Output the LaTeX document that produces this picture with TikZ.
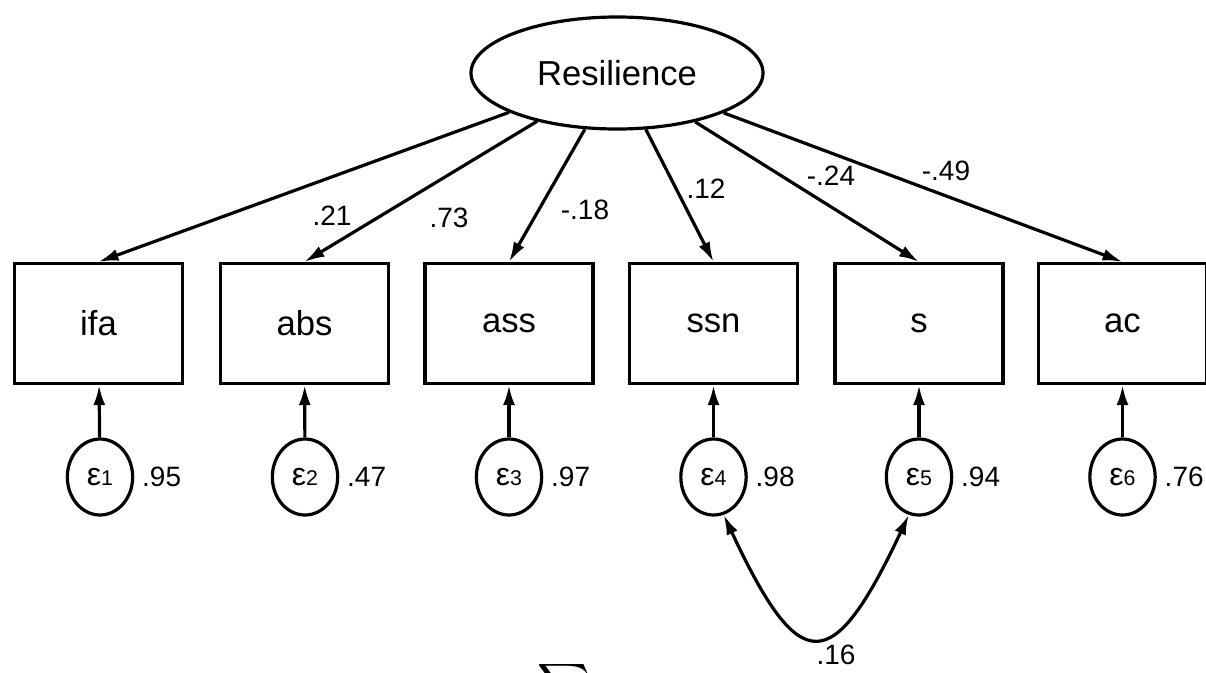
\documentclass[tikz,border=0pt]{standalone}
\usepackage{amsmath}
\usepackage{graphicx}
\usepackage{fontspec}
\setmainfont{Liberation Sans}
\usetikzlibrary{arrows.meta,positioning,shapes.geometric}

\newcommand{\errlab}[1]{{\fontsize{24}{27}\selectfont ε}{\fontsize{16}{18}\selectfont #1}}

\begin{document}
\begin{tikzpicture}[x=0.75pt,y=0.75pt,yscale=-1,xscale=1,
  obsbox/.style={draw,line width=2.4pt,minimum width=126pt,minimum height=90pt,inner sep=0pt,font=\fontsize{26}{30}\selectfont},
  latent/.style={ellipse,draw,line width=2.4pt,minimum width=219pt,minimum height=84pt,inner sep=0pt,font=\fontsize{26}{30}\selectfont},
  errnode/.style={ellipse,draw,line width=2.4pt,minimum width=49pt,minimum height=57pt,inner sep=0pt},
  coef/.style={inner sep=0.75pt,font=\fontsize{21}{24}\selectfont},
  loadarrow/.style={line width=2.4pt,-{Latex[length=15pt,width=9pt]}},
  covarrow/.style={line width=2.4pt,{Latex[length=15pt,width=9pt]}-{Latex[length=15pt,width=9pt]}}]
\useasboundingbox (0,0) rectangle (1206,672);

%Shape: Ellipse [latent]
\node [latent] (res) at (617,73) {Resilience};

%Shape: Rectangle [observed]
\node [obsbox] (ifa) at (98.5,323.5) {ifa};
\node [obsbox] (abs) at (304.5,323.5) {abs};
\node [obsbox] (ass) at (509,323.5) {ass};
\node [obsbox] (ssn) at (713.5,323.5) {ssn};
\node [obsbox] (s) at (919,323.5) {s};
\node [obsbox] (ac) at (1122.5,323.5) {ac};

%Shape: Ellipse [errors]
\node [errnode] (e1) at (100,477) {\errlab{1}};
\node [errnode] (e2) at (305,477) {\errlab{2}};
\node [errnode] (e3) at (509,477) {\errlab{3}};
\node [errnode] (e4) at (713.5,477) {\errlab{4}};
\node [errnode] (e5) at (919,477) {\errlab{5}};
\node [errnode] (e6) at (1122.5,477) {\errlab{6}};

%Straight Lines [loadings]
\draw [loadarrow] (res) -- (ifa.north);
\draw [loadarrow] (res) -- (abs.north);
\draw [loadarrow] (res) -- (ass.north);
\draw [loadarrow] (res) -- (ssn.north);
\draw [loadarrow] (res) -- (s.north);
\draw [loadarrow] (res) -- (ac.north);

%Straight Lines [errors]
\draw [loadarrow] (e1) -- (ifa);
\draw [loadarrow] (e2) -- (abs);
\draw [loadarrow] (e3) -- (ass);
\draw [loadarrow] (e4) -- (ssn);
\draw [loadarrow] (e5) -- (s);
\draw [loadarrow] (e6) -- (ac);

%Curve Lines [covariance]
\draw [covarrow] (e4.-75) .. controls (800,678) and (832,678) .. (e5.-105);

% Text Node
\node [coef] (c1) at (332,216) {.21};
% Text Node
\node [coef] (c2) at (449,218) {.73};
% Text Node
\node [coef] (c3) at (585,210) {-.18};
% Text Node
\node [coef] (c4) at (706,189) {.12};
% Text Node
\node [coef] (c5) at (831,176) {-.24};
% Text Node
\node [coef] (c6) at (946,171) {-.49};

% Text Node
\node [coef,right=5pt of e1] (v1) {.95};
\node [coef,right=5pt of e2] (v2) {.47};
\node [coef,right=5pt of e3] (v3) {.97};
\node [coef,right=5pt of e4] (v4) {.98};
\node [coef,right=5pt of e5] (v5) {.94};
\node [coef,right=5pt of e6] (v6) {.76};

% Text Node
\node [coef] (c7) at (836,655) {.16};
% Text Node
\node [anchor=north,inner sep=0pt] (sig) at (563.5,661) {\scalebox{2.75}{$\displaystyle\sum$}};

\end{tikzpicture}
\end{document}
